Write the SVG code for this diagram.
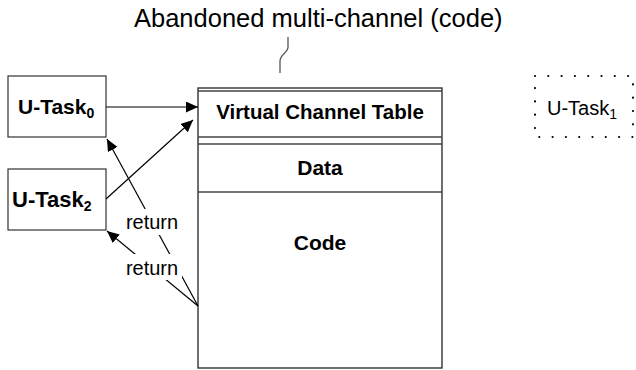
<svg xmlns="http://www.w3.org/2000/svg" width="636" height="370" viewBox="0 0 636 370">
<style>
  text { font-family: "Liberation Sans", Arial, sans-serif; fill: #000; }
  .bold { font-weight: bold; font-size: 21px; }
  .box { fill: #fff; stroke: #333; stroke-width: 1.2; }
  .sect { stroke: #444; stroke-width: 1.3; fill: none; }
  .conn { stroke: #000; stroke-width: 1.2; fill: none; }
  .lbl { font-size: 20px; }
  .sub { font-size: 14px; }
</style>
<defs>
  <marker id="arrow" markerUnits="userSpaceOnUse" markerWidth="14" markerHeight="12" refX="12" refY="5.5" orient="auto">
    <path d="M0,0 L12,5.5 L0,11 Z" fill="#000"/>
  </marker>
</defs>

<g id="title">
  <text x="134" y="27" style="font-size:25.5px">Abandoned multi-channel (code)</text>
  <path d="M288,37 L288,47 C288,53 280,54 280,61 L280,73" fill="none" stroke="#555" stroke-width="1.3"/>
</g>

<g id="node-channel">
  <rect x="198" y="88" width="244" height="280" fill="#fff" stroke="#222" stroke-width="1.3"/>
  <line class="sect" x1="198" y1="91" x2="442" y2="91"/>
  <line class="sect" x1="198" y1="137" x2="442" y2="137"/>
  <line class="sect" x1="198" y1="144" x2="442" y2="144"/>
  <line class="sect" x1="198" y1="192" x2="442" y2="192"/>
  <text class="bold" x="320" y="119" text-anchor="middle" style="font-size:20.5px">Virtual Channel Table</text>
  <text class="bold" x="320" y="175" text-anchor="middle">Data</text>
  <text class="bold" x="320" y="250" text-anchor="middle">Code</text>
</g>

<g id="node-utask0">
  <rect class="box" x="8" y="76" width="98" height="61"/>
  <text class="bold" x="18" y="114">U-Task<tspan class="sub" dy="4">0</tspan></text>
</g>

<g id="node-utask2">
  <rect class="box" x="8" y="169" width="98" height="61"/>
  <text class="bold" x="12" y="207" style="font-size:22px">U-Task<tspan class="sub" dy="4">2</tspan></text>
</g>

<g id="node-utask1">
  <rect x="535" y="76" width="98" height="61" fill="none" stroke="#000" stroke-width="2.2" stroke-linecap="round" stroke-dasharray="0 13.3"/>
  <text x="547" y="115" style="font-size:20px">U-Task<tspan class="sub" dy="4">1</tspan></text>
</g>

<g id="connectors">
  <line class="conn" x1="106" y1="107" x2="198" y2="107" marker-end="url(#arrow)"/>
  <line class="conn" x1="106" y1="199" x2="193" y2="120" marker-end="url(#arrow)"/>
  <line class="conn" x1="198" y1="306" x2="107" y2="139" marker-end="url(#arrow)"/>
  <line class="conn" x1="198" y1="306" x2="107" y2="231" marker-end="url(#arrow)"/>
  <g id="label-return1">
    <rect x="124" y="209" width="57" height="26" fill="#fff"/>
    <text class="lbl" x="152" y="229" text-anchor="middle">return</text>
  </g>
  <g id="label-return2">
    <rect x="124" y="254" width="58" height="26" fill="#fff"/>
    <text class="lbl" x="152" y="275" text-anchor="middle">return</text>
  </g>
</g>
</svg>
